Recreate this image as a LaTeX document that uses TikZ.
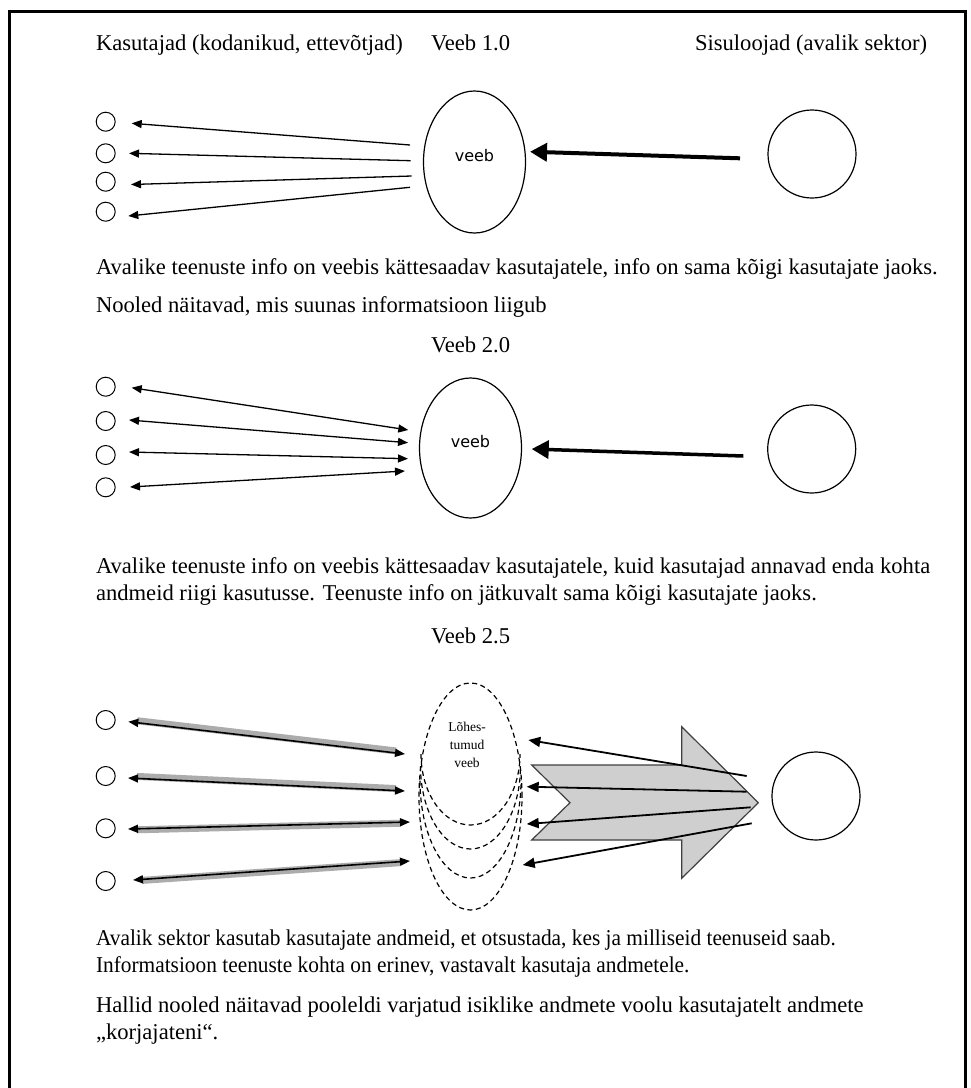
\documentclass[tikz,border=0pt]{standalone}
\usepackage{fontspec}
\setmainfont{Liberation Serif}
\newfontfamily\sansf{DejaVu Sans}
\usetikzlibrary{arrows.meta,shapes.geometric}
\begin{document}
\begin{tikzpicture}[x=1pt,y=-1pt,
  every node/.style={inner sep=0pt,outer sep=0pt},
  body/.style={anchor=base west,font=\fontsize{22.6}{27}\selectfont},
  user/.style={draw,circle,minimum size=19pt,line width=1pt},
  creator/.style={draw,circle,minimum size=88pt,line width=1.2pt},
  web/.style={draw,ellipse,minimum width=102pt,minimum height=142pt,line width=1.2pt},
  frag/.style={ellipse,anchor=north},
  fragline/.style={dashed,dash pattern=on 5pt off 3.5pt,line width=1.2pt},
  weblabel/.style={font=\sansf\fontsize{16}{18}\selectfont},
  thinarr/.style={line width=1.3pt,-{Triangle[length=10pt,width=8pt]}},
  twoarr/.style={line width=1.3pt,{Triangle[length=10pt,width=8pt]}-{Triangle[length=10pt,width=8pt]}},
  thickarr/.style={line width=4pt,-{Triangle[length=17pt,width=18pt]}},
  shadowband/.style={line width=7pt,gray!65,shorten <=9pt,shorten >=9pt},
  dataarr/.style={line width=1.8pt,-{Triangle[length=12pt,width=10pt]}},
  blockarrow/.style={fill=gray!38,draw=black!75,line width=1.2pt,line join=miter}
]
\useasboundingbox (0,0) rectangle (971,1088);
\clip (0,0) rectangle (971,1088);
\fill[white] (0,0) rectangle (971,1088);
\draw[line width=2.5pt] (9.5,11.5) rectangle (965.5,1110);

% titles
\node[body] (t1) at (96,50) {Kasutajad (kodanikud, ettevõtjad)};
\node[body] (t2) at (431,50) {Veeb 1.0};
\node[body] (t3) at (695,50) {Sisuloojad (avalik sektor)};

% ---------- Veeb 1.0 ----------
\node[user] (a1) at (105.7,121.7) {};
\node[user] (a2) at (105.7,153.3) {};
\node[user] (a3) at (105.7,181.7) {};
\node[user] (a4) at (105.7,211.7) {};
\node[web] (v1) at (474.5,162) {};
\node[weblabel] (v1l) at (474.5,156) {veeb};
\node[creator] (s1) at (812,154) {};
\coordinate (p11) at (410,145);   \coordinate (q11) at (131.7,123.3);
\coordinate (p12) at (410.7,160.7); \coordinate (q12) at (129,153.3);
\coordinate (p13) at (411.7,176); \coordinate (q13) at (131,184.5);
\coordinate (p14) at (410,187.3); \coordinate (q14) at (128.3,216);
\draw[thinarr] (p11) -- (q11);
\draw[thinarr] (p12) -- (q12);
\draw[thinarr] (p13) -- (q13);
\draw[thinarr] (p14) -- (q14);
\coordinate (r1) at (740,158.3); \coordinate (w1) at (530,151.7);
\draw[thickarr] (r1) -- (w1);

\node[body] (x1) at (96,274) {Avalike teenuste info on veebis kättesaadav kasutajatele, info on sama kõigi kasutajate jaoks.};
\node[body] (x2) at (96,312) {Nooled näitavad, mis suunas informatsioon liigub};
\node[body] (t4) at (431,352) {Veeb 2.0};

% ---------- Veeb 2.0 ----------
\node[user] (b1) at (105.7,386.7) {};
\node[user] (b2) at (105.7,421) {};
\node[user] (b3) at (105.7,455) {};
\node[user] (b4) at (105.7,487.3) {};
\node[web,minimum height=140pt] (v2) at (470.5,448) {};
\node[weblabel] (v2l) at (470.5,442) {veeb};
\node[creator] (s2) at (811.7,449) {};
\coordinate (q21) at (131.7,387.7); \coordinate (p21) at (408.3,430);
\coordinate (q22) at (129,420);   \coordinate (p22) at (408,442.7);
\coordinate (q23) at (129,452);   \coordinate (p23) at (408,458.7);
\coordinate (q24) at (130,487);   \coordinate (p24) at (405,471);
\draw[twoarr] (q21) -- (p21);
\draw[twoarr] (q22) -- (p22);
\draw[twoarr] (q23) -- (p23);
\draw[twoarr] (q24) -- (p24);
\coordinate (r2) at (743.3,456); \coordinate (w2) at (531.7,449);
\draw[thickarr,line width=3.5pt] (r2) -- (w2);

\node[body] (x3) at (96,573) {Avalike teenuste info on veebis kättesaadav kasutajatele, kuid kasutajad annavad enda kohta};
\node[body] (x4) at (96,600) {andmeid riigi kasutusse. Teenuste info on jätkuvalt sama kõigi kasutajate jaoks.};
\node[body] (t5) at (431,643) {Veeb 2.5};

% ---------- Veeb 2.5 ----------
\node[user] (c1) at (105.7,720) {};
\node[user] (c2) at (105.7,776) {};
\node[user] (c3) at (105.7,828.3) {};
\node[user] (c4) at (105.7,881) {};
\node[frag,minimum width=99pt,minimum height=142pt] (d1) at (470.5,683) {};
\node[frag,minimum width=100pt,minimum height=166pt] (d2) at (470.5,683) {};
\node[frag,minimum width=101pt,minimum height=195pt] (d3) at (470.5,683) {};
\node[frag,draw,fragline,minimum width=103pt,minimum height=227pt] (d4) at (470.5,683) {};
\draw[fragline] (d1.west) arc[start angle=180,end angle=360,x radius=49.5pt,y radius=71pt];
\draw[fragline] (d2.west) arc[start angle=180,end angle=360,x radius=50pt,y radius=83pt];
\draw[fragline] (d3.west) arc[start angle=180,end angle=360,x radius=50.5pt,y radius=97.5pt];
\node[align=center,font=\fontsize{13.5}{18}\selectfont] (dl) at (467,745) {Lõhes-\\tumud\\veeb};

\coordinate (q31) at (128.3,721.7); \coordinate (p31) at (405,754);
\coordinate (q32) at (128,778);   \coordinate (p32) at (405,791);
\coordinate (q33) at (128,829);   \coordinate (p33) at (410,822);
\coordinate (q34) at (133,880);   \coordinate (p34) at (410,861);
\draw[shadowband] ([yshift=2pt]q31) -- ([yshift=2pt]p31);
\draw[shadowband] ([yshift=2pt]q32) -- ([yshift=2pt]p32);
\draw[shadowband] ([yshift=-1pt]q33) -- ([yshift=-1pt]p33);
\draw[shadowband] ([yshift=-1pt]q34) -- ([yshift=-1pt]p34);
\draw[twoarr,line width=1.6pt] (q31) -- (p31);
\draw[twoarr,line width=1.6pt] (q32) -- (p32);
\draw[twoarr,line width=1.6pt] (q33) -- (p33);
\draw[twoarr,line width=1.6pt] (q34) -- (p34);

\draw[blockarrow] (531.7,765) -- (570,802.7) -- (531.7,840) -- (681.7,840) -- (681.7,878.3)
  -- (758.3,802.7) -- (681.7,726.7) -- (681.7,765) -- cycle;
\node[creator] (s3) at (816,796) {};
\coordinate (r31) at (746.7,776);   \coordinate (w31) at (528.3,740);
\coordinate (r32) at (746.7,791.7); \coordinate (w32) at (526.7,786.7);
\coordinate (r33) at (750.7,807.3); \coordinate (w33) at (526.7,824);
\coordinate (r34) at (751.7,823.3); \coordinate (w34) at (522.7,865);
\draw[dataarr] (r31) -- (w31);
\draw[dataarr] (r32) -- (w32);
\draw[dataarr] (r33) -- (w33);
\draw[dataarr] (r34) -- (w34);

\node[body] (x5) at (96,945) {\scalebox{0.945}[1]{Avalik sektor kasutab kasutajate andmeid, et otsustada, kes ja milliseid teenuseid saab.}};
\node[body] (x6) at (96,972) {\scalebox{0.945}[1]{Informatsioon teenuste kohta on erinev, vastavalt kasutaja andmetele.}};
\node[body] (x7) at (96,1012) {Hallid nooled näitavad pooleldi varjatud isiklike andmete voolu kasutajatelt andmete};
\node[body] (x8) at (96,1039) {„korjajateni“.};
\end{tikzpicture}
\end{document}
